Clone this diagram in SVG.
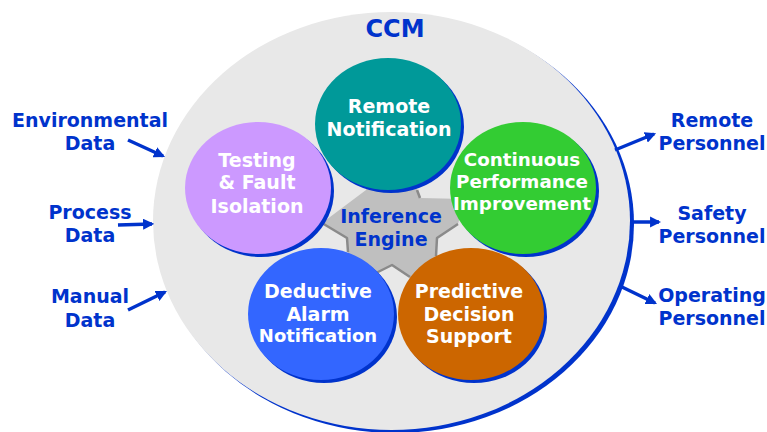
<svg xmlns="http://www.w3.org/2000/svg" width="767" height="432" viewBox="0 0 767 432">
<defs>
<style>
text{font-family:"DejaVu Sans",Verdana,"Liberation Sans",sans-serif;font-weight:bold;text-anchor:middle;font-size:19px}
.w{fill:#ffffff}
.b{fill:#0033CC}
.sh{fill:#0033CC}
.edge{fill:none;stroke:#8A8A8A;stroke-width:2.5;stroke-linejoin:round}
.arr{stroke:#0033CC;stroke-width:3.5;fill:none;marker-end:url(#ah)}
</style>
<marker id="ah" viewBox="0 0 10 10" refX="8" refY="5" markerWidth="3.2" markerHeight="3.2" orient="auto" markerUnits="strokeWidth">
<path d="M0,0 L10,5 L0,10 Z" fill="#0033CC"/>
</marker>
</defs>
<rect width="767" height="432" fill="#ffffff"/>
<g id="ccm">
<ellipse cx="395" cy="224" rx="239" ry="209" class="sh"/>
<ellipse cx="391.5" cy="221" rx="238.5" ry="209" fill="#E8E8E8"/>
<text x="395" y="37" class="b" style="font-size:24px">CCM</text>
</g>
<g id="inference-engine">
<polygon points="366,190 378,140 406,140 417,190 420,198 465,199 458,224 437,238 436,256 440,292 410,277 392,265 376,273 344,292 348,252 347,238 322,223" fill="#BFBFBF"/>
<polyline points="322,223 347,238 348,252" class="edge"/>
<polyline points="458,224 437,238 436,256" class="edge"/>
<polyline points="376,273 392,265 410,277" class="edge"/>
<polyline points="417,190 420,198" class="edge"/>
<text x="391" y="223" class="b">Inference</text>
<text x="391" y="246" class="b">Engine</text>
</g>
<g id="remote-notification">
<ellipse cx="391" cy="127" rx="73" ry="66" class="sh"/>
<ellipse cx="388" cy="124" rx="73" ry="66" fill="#009999"/>
<text x="389" y="113" class="w">Remote</text>
<text x="389" y="136" class="w">Notification</text>
</g>
<g id="testing-fault-isolation">
<ellipse cx="261" cy="191" rx="73" ry="66" class="sh"/>
<ellipse cx="258" cy="188" rx="73" ry="66" fill="#CC99FF"/>
<text x="257" y="167" class="w">Testing</text>
<text x="257" y="189" class="w">&amp; Fault</text>
<text x="257" y="213" class="w">Isolation</text>
</g>
<g id="continuous-performance-improvement">
<ellipse cx="526" cy="191" rx="73" ry="66" class="sh"/>
<ellipse cx="523" cy="188" rx="73" ry="66" fill="#33CC33"/>
<text x="522" y="166" class="w" style="font-size:18.3px">Continuous</text>
<text x="522" y="188" class="w" style="font-size:18.3px">Performance</text>
<text x="522" y="210" class="w" style="font-size:18.3px">Improvement</text>
</g>
<g id="deductive-alarm-notification">
<ellipse cx="324" cy="317" rx="73" ry="66" class="sh"/>
<ellipse cx="321" cy="314" rx="73" ry="66" fill="#3366FF"/>
<text x="318" y="298" class="w">Deductive</text>
<text x="318" y="321" class="w">Alarm</text>
<text x="318" y="342" class="w" style="font-size:18px">Notification</text>
</g>
<g id="predictive-decision-support">
<ellipse cx="474" cy="317" rx="73" ry="66" class="sh"/>
<ellipse cx="471" cy="314" rx="73" ry="66" fill="#CC6600"/>
<text x="469" y="298" class="w">Predictive</text>
<text x="469" y="321" class="w">Decision</text>
<text x="469" y="343" class="w">Support</text>
</g>
<g id="environmental-data">
<text x="90" y="127" class="b">Environmental</text>
<text x="90" y="150" class="b">Data</text>
</g>
<g id="process-data">
<text x="90" y="219" class="b">Process</text>
<text x="90" y="242" class="b">Data</text>
</g>
<g id="manual-data">
<text x="90" y="303" class="b">Manual</text>
<text x="90" y="327" class="b">Data</text>
</g>
<g id="remote-personnel">
<text x="712" y="127" class="b">Remote</text>
<text x="712" y="150" class="b">Personnel</text>
</g>
<g id="safety-personnel">
<text x="712" y="220" class="b">Safety</text>
<text x="712" y="243" class="b">Personnel</text>
</g>
<g id="operating-personnel">
<text x="712" y="302" class="b">Operating</text>
<text x="712" y="325" class="b">Personnel</text>
</g>
<g id="connectors">
<line x1="128" y1="140" x2="163" y2="156" class="arr"/>
<line x1="118" y1="225" x2="152" y2="224" class="arr"/>
<line x1="128" y1="310" x2="165" y2="292" class="arr"/>
<line x1="615" y1="150" x2="654" y2="134" class="arr"/>
<line x1="632" y1="222" x2="659" y2="222" class="arr"/>
<line x1="622" y1="287" x2="655" y2="303" class="arr"/>
</g>
</svg>
